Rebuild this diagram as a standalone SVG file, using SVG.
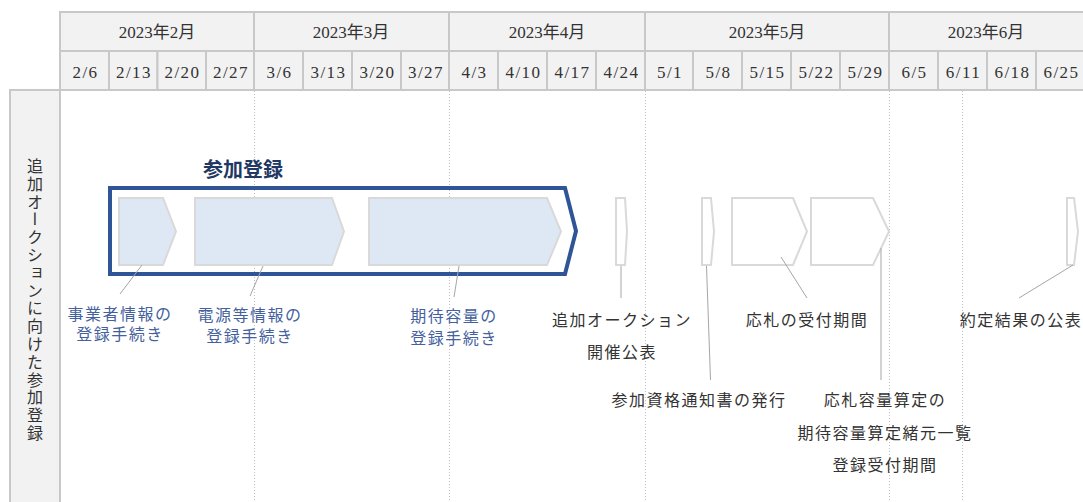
<svg xmlns="http://www.w3.org/2000/svg" width="1083" height="502" viewBox="0 0 1083 502">
<style>
.hdr{fill:#f2f2f2;stroke:#c8c8c8;stroke-width:2}
.ht{font-family:"Liberation Serif","Noto Sans CJK JP",serif;font-size:17px;fill:#333;text-anchor:middle}
.wk{font-family:"Liberation Serif","Noto Sans CJK JP",serif;font-size:17px;fill:#333;text-anchor:middle;letter-spacing:1.5px}
.grid{stroke:#c0c0c0;stroke-width:1;stroke-dasharray:1 2}
.chev{fill:#dde8f4;stroke:#d9d9d9;stroke-width:2}
.ms{fill:#fff;stroke:#d9d9d9;stroke-width:2}
.lead{stroke:#a6a6a6;stroke-width:1;fill:none}
.bl{font-family:"Liberation Serif","Noto Sans CJK JP",serif;font-size:16px;fill:#44619e;text-anchor:middle;letter-spacing:1.5px}
.tx{font-family:"Liberation Serif","Noto Sans CJK JP",serif;font-size:16px;fill:#333;text-anchor:middle;letter-spacing:1.5px}
</style>
<rect width="1083" height="502" fill="#fff"/>
<g id="header">
<rect class="hdr" x="60" y="12" width="194" height="39"/>
<rect class="hdr" x="254" y="12" width="195" height="39"/>
<rect class="hdr" x="449" y="12" width="196" height="39"/>
<rect class="hdr" x="645" y="12" width="244" height="39"/>
<rect class="hdr" x="889" y="12" width="200" height="39"/>
<text class="ht" x="157" y="38">2023年2月</text>
<text class="ht" x="351" y="38">2023年3月</text>
<text class="ht" x="547" y="38">2023年4月</text>
<text class="ht" x="767" y="38">2023年5月</text>
<text class="ht" x="986" y="38">2023年6月</text>
<rect class="hdr" x="60" y="51" width="49" height="39"/>
<rect class="hdr" x="109" y="51" width="48.5" height="39"/>
<rect class="hdr" x="157.5" y="51" width="48.5" height="39"/>
<rect class="hdr" x="206" y="51" width="48" height="39"/>
<rect class="hdr" x="254" y="51" width="49" height="39"/>
<rect class="hdr" x="303" y="51" width="49" height="39"/>
<rect class="hdr" x="352" y="51" width="49" height="39"/>
<rect class="hdr" x="401" y="51" width="48" height="39"/>
<rect class="hdr" x="449" y="51" width="49" height="39"/>
<rect class="hdr" x="498" y="51" width="49" height="39"/>
<rect class="hdr" x="547" y="51" width="49" height="39"/>
<rect class="hdr" x="596" y="51" width="49" height="39"/>
<rect class="hdr" x="645" y="51" width="48" height="39"/>
<rect class="hdr" x="693" y="51" width="49" height="39"/>
<rect class="hdr" x="742" y="51" width="49" height="39"/>
<rect class="hdr" x="791" y="51" width="49" height="39"/>
<rect class="hdr" x="840" y="51" width="49" height="39"/>
<rect class="hdr" x="889" y="51" width="49" height="39"/>
<rect class="hdr" x="938" y="51" width="49" height="39"/>
<rect class="hdr" x="987" y="51" width="49" height="39"/>
<rect class="hdr" x="1036" y="51" width="53" height="39"/>
<text class="wk" x="85.5" y="78">2/6</text>
<text class="wk" x="134" y="78">2/13</text>
<text class="wk" x="182.5" y="78">2/20</text>
<text class="wk" x="231" y="78">2/27</text>
<text class="wk" x="279.5" y="78">3/6</text>
<text class="wk" x="328.5" y="78">3/13</text>
<text class="wk" x="377.5" y="78">3/20</text>
<text class="wk" x="426" y="78">3/27</text>
<text class="wk" x="474.5" y="78">4/3</text>
<text class="wk" x="523.5" y="78">4/10</text>
<text class="wk" x="572.5" y="78">4/17</text>
<text class="wk" x="621.5" y="78">4/24</text>
<text class="wk" x="670" y="78">5/1</text>
<text class="wk" x="718.5" y="78">5/8</text>
<text class="wk" x="767.5" y="78">5/15</text>
<text class="wk" x="816.5" y="78">5/22</text>
<text class="wk" x="865.5" y="78">5/29</text>
<text class="wk" x="914.5" y="78">6/5</text>
<text class="wk" x="963.5" y="78">6/11</text>
<text class="wk" x="1012.5" y="78">6/18</text>
<text class="wk" x="1061.5" y="78">6/25</text>
</g>
<g id="row-label">
<rect class="hdr" x="10" y="90" width="50" height="420"/>
<text x="35" y="158" style="writing-mode:vertical-rl;text-orientation:upright;font-family:'Noto Sans CJK JP',sans-serif;font-size:16px;fill:#333;letter-spacing:1.8px">追加オークションに向けた参加登録</text>
</g>
<g id="gridlines">
<line x1="60" y1="90" x2="60" y2="502" stroke="#c8c8c8" stroke-width="2"/>
<line class="grid" x1="254.5" y1="91" x2="254.5" y2="502"/>
<line class="grid" x1="449.5" y1="91" x2="449.5" y2="502"/>
<line class="grid" x1="645.5" y1="91" x2="645.5" y2="502"/>
<line class="grid" x1="889.5" y1="91" x2="889.5" y2="502"/>
<line class="grid" x1="962.5" y1="91" x2="962.5" y2="502"/>
</g>
<g id="group-sanka">
<text x="243" y="177" text-anchor="middle" style="font-family:'Noto Sans CJK JP',sans-serif;font-size:20px;font-weight:bold;fill:#1f3864">参加登録</text>
<path d="M110,188 L565,188 L576,231 L565,274 L110,274 Z" fill="none" stroke="#2f5597" stroke-width="4"/>
</g>
<g id="node-jigyosha">
<path class="chev" d="M119,198 L163,198 L176,231.5 L163,265 L119,265 Z"/>
<text class="bl" x="120" y="320">事業者情報の</text>
<text class="bl" x="120" y="340">登録手続き</text>
</g>
<g id="node-dengen">
<path class="chev" d="M195,198 L332,198 L344,231.5 L332,265 L195,265 Z"/>
<text class="bl" x="250" y="321">電源等情報の</text>
<text class="bl" x="250" y="342">登録手続き</text>
</g>
<g id="node-kitai">
<path class="chev" d="M369,198 L547,198 L561,231.5 L547,265 L369,265 Z"/>
<text class="bl" x="454" y="322">期待容量の</text>
<text class="bl" x="454" y="344">登録手続き</text>
</g>
<g id="node-kaisai">
<path class="ms" d="M616,198 L625,198 L627,231.5 L625,265 L616,265 Z"/>
<text class="tx" x="622" y="326">追加オークション</text>
<text class="tx" x="622" y="358">開催公表</text>
</g>
<g id="node-tsuchi">
<path class="ms" d="M702,198 L711,198 L714,231.5 L711,265 L702,265 Z"/>
<text class="tx" x="699" y="406">参加資格通知書の発行</text>
</g>
<g id="node-osatsu">
<path class="ms" d="M732,198 L793,198 L807,231.5 L793,265 L732,265 Z"/>
<text class="tx" x="807" y="326">応札の受付期間</text>
</g>
<g id="node-santei">
<path class="ms" d="M811,198 L873,198 L889,231.5 L873,265 L811,265 Z"/>
<text class="tx" x="885" y="406">応札容量算定の</text>
<text class="tx" x="885" y="439">期待容量算定緒元一覧</text>
<text class="tx" x="885" y="471">登録受付期間</text>
</g>
<g id="node-yakujo">
<path class="ms" d="M1067,198 L1074,198 L1078,231.5 L1074,265 L1067,265 Z"/>
<text class="tx" x="1021" y="326">約定結果の公表</text>
</g>
<g id="connectors">
<line class="lead" x1="142" y1="265" x2="120" y2="294"/>
<line class="lead" x1="263" y1="266" x2="250" y2="296"/>
<line class="lead" x1="459" y1="266" x2="454" y2="297"/>
<line class="lead" x1="621" y1="266" x2="621" y2="298"/>
<line class="lead" x1="706.5" y1="266" x2="710.5" y2="380"/>
<line class="lead" x1="781" y1="257" x2="807" y2="298"/>
<line class="lead" x1="881" y1="248" x2="881" y2="380"/>
<line class="lead" x1="1073" y1="265" x2="1019" y2="298"/>
</g>
</svg>
